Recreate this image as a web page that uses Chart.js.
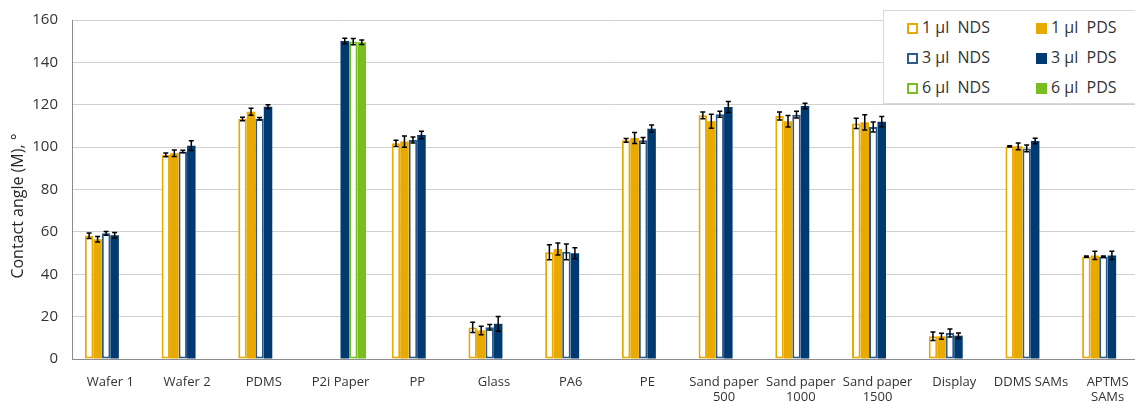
<!DOCTYPE html>
<html>
<head>
<meta charset="utf-8">
<script src="https://cdn.jsdelivr.net/npm/chart.js@4.4.1/dist/chart.umd.min.js"></script>
<style>
  html, body { margin: 0; padding: 0; background: #fff; overflow: hidden; width: 1135px; height: 402px; }
  #wrap { position: relative; width: 1146px; height: 402px; }
  #legend {
    position: absolute; left: 883px; top: 10px; width: 270px; height: 92px;
    border: 1px solid #d9d9d9; background: #fff;
    font-family: "Open Sans", sans-serif; font-size: 16px; color: #333;
  }
  .item { position: absolute; height: 20px; line-height: 20px; white-space: pre; }
  .box { display: inline-block; width: 11px; height: 11px; box-sizing: border-box; vertical-align: -1px; margin-right: 4px; }
</style>
</head>
<body>
<div id="wrap">
  <canvas id="chart" width="1146" height="402"></canvas>
  <div id="legend"></div>
</div>
<script>
// categories
const categories = [
  "Wafer 1", "Wafer 2", "PDMS", "P2i Paper", "PP", "Glass", "PA6", "PE",
  ["Sand paper", "500"], ["Sand paper", "1000"], ["Sand paper", "1500"],
  "Display", "DDMS SAMs", ["APTMS", "SAMs"]
];

// mean contact angles
const nds1 = [58.2, 96.3, 113.3, null, 101.8, 14.9, 50.4, 103.2, 115.0, 114.7, 111.2, 10.7, 100.4, 48.3];
const pds1 = [56.5, 97.1, 116.7, null, 102.6, 13.5, 51.9, 104.3, 112.2, 112.2, 111.7, 10.7, 100.4, 48.9];
const nds3 = [59.3, 97.9, 113.4, null, 103.4, 15.0, 50.6, 103.2, 115.5, 115.3, 109.5, 12.3, 99.4, 48.3];
const pds3 = [58.4, 100.7, 119.1, 150.1, 105.7, 16.6, 49.9, 108.7, 118.9, 119.4, 112.0, 11.0, 102.9, 48.9];
const nds6 = [null, null, null, 149.8, null, null, null, null, null, null, null, null, null, null];
const pds6 = [null, null, null, 149.5, null, null, null, null, null, null, null, null, null, null];

// error bars (+/-)
const nds1Err = [1.3, 0.9, 0.8, null, 1.5, 2.4, 3.5, 0.9, 1.6, 1.9, 2.4, 2.0, 0.3, 0.3];
const pds1Err = [1.3, 1.5, 1.7, null, 2.7, 2.0, 2.8, 2.6, 3.3, 2.7, 3.6, 1.4, 1.6, 1.9];
const nds3Err = [0.9, 0.6, 0.6, null, 1.4, 1.3, 3.7, 1.4, 1.4, 1.6, 2.4, 1.9, 1.6, 0.3];
const pds3Err = [1.3, 2.3, 0.9, 1.3, 1.8, 3.5, 2.6, 1.7, 2.6, 1.3, 2.4, 1.3, 1.3, 1.9];
const nds6Err = [null, null, null, 1.5, null, null, null, null, null, null, null, null, null, null];
const pds6Err = [null, null, null, 1.1, null, null, null, null, null, null, null, null, null, null];

const yTicks = [0, 20, 40, 60, 80, 100, 120, 140, 160];
const yTitle = "Contact angle (M), °";

const orange = "#e8a900";
const blue = "#003a70";
const blueLine = "#2a5b8e";
const green = "#78be21";

const series = [
  { label: "1 µl  NDS", data: nds1, err: nds1Err, fill: "#fff", line: orange, hollow: true },
  { label: "1 µl  PDS", data: pds1, err: pds1Err, fill: orange, line: orange, hollow: false },
  { label: "3 µl  NDS", data: nds3, err: nds3Err, fill: "#fff", line: blueLine, hollow: true },
  { label: "3 µl  PDS", data: pds3, err: pds3Err, fill: blue, line: blue, hollow: false },
  { label: "6 µl  NDS", data: nds6, err: nds6Err, fill: "#fff", line: green, hollow: true },
  { label: "6 µl  PDS", data: pds6, err: pds6Err, fill: green, line: green, hollow: false }
];

// html legend, two columns
const legend = document.getElementById("legend");
series.forEach((s, i) => {
  const col = i % 2, row = Math.floor(i / 2);
  const el = document.createElement("div");
  el.className = "item";
  el.style.left = (col ? 152 : 23) + "px";
  el.style.top = (6 + row * 30) + "px";
  const box = document.createElement("span");
  box.className = "box";
  if (s.hollow) { box.style.border = "2px solid " + s.line; box.style.background = "#fff"; }
  else { box.style.background = s.fill; }
  el.appendChild(box);
  el.appendChild(document.createTextNode(s.label));
  legend.appendChild(el);
});

const errorBars = {
  id: "errorBars",
  afterDatasetsDraw(chart) {
    const ctx = chart.ctx;
    const y = chart.scales.y;
    ctx.save();
    ctx.strokeStyle = "#000";
    ctx.lineWidth = 1.5;
    chart.data.datasets.forEach((ds, di) => {
      const meta = chart.getDatasetMeta(di);
      ds.data.forEach((v, i) => {
        const e = ds.errors[i];
        if (v == null || e == null) return;
        const x = meta.data[i].x;
        const top = y.getPixelForValue(v + e);
        const bot = y.getPixelForValue(v - e);
        ctx.beginPath();
        ctx.moveTo(x, top); ctx.lineTo(x, bot);
        ctx.moveTo(x - 2.5, top); ctx.lineTo(x + 2.5, top);
        ctx.moveTo(x - 2.5, bot); ctx.lineTo(x + 2.5, bot);
        ctx.stroke();
      });
    });
    ctx.restore();
  }
};

// y axis title, placed like the original (slightly below the plot middle)
const axisTitle = {
  id: "axisTitle",
  afterDraw(chart) {
    const ctx = chart.ctx;
    ctx.save();
    ctx.translate(18, 206);
    ctx.rotate(-Math.PI / 2);
    ctx.font = "16px 'Open Sans'";
    ctx.fillStyle = "#262626";
    ctx.textAlign = "center";
    ctx.textBaseline = "middle";
    ctx.fillText(yTitle, 0, 0);
    ctx.restore();
  }
};

new Chart(document.getElementById("chart"), {
  type: "bar",
  data: {
    labels: categories,
    datasets: series.map(s => ({
      label: s.label,
      data: s.data,
      errors: s.err,
      backgroundColor: s.fill,
      borderColor: s.line,
      borderWidth: s.hollow ? 2 : 0,
      borderSkipped: false,
      barPercentage: 1,
      categoryPercentage: 0.665
    }))
  },
  options: {
    responsive: false,
    animation: false,
    layout: { padding: { top: 20, right: 0, left: 0, bottom: 0 } },
    plugins: { legend: { display: false }, tooltip: { enabled: false } },
    scales: {
      x: {
        grid: { display: false, drawTicks: false },
        border: { color: "#8c8c8c", width: 1 },
        ticks: { color: "#333", font: { family: "Open Sans", size: 13 }, padding: 15, maxRotation: 0, autoSkip: false },
        afterFit(scale) { scale.height = 43; scale.paddingLeft = 0; scale.paddingRight = 0; }
      },
      y: {
        min: 0, max: 160,
        afterBuildTicks(scale) { scale.ticks = yTicks.map(v => ({ value: v })); },
        grid: { color: "#d0d0d0", lineWidth: 1, drawTicks: false },
        border: { color: "#8c8c8c", width: 1 },
        ticks: { color: "#333", font: { family: "Open Sans", size: 15 }, padding: 14 },
        afterFit(scale) { scale.width = 72; scale.paddingTop = 0; scale.paddingBottom = 0; }
      }
    }
  },
  plugins: [errorBars, axisTitle]
});
</script>
</body>
</html>
